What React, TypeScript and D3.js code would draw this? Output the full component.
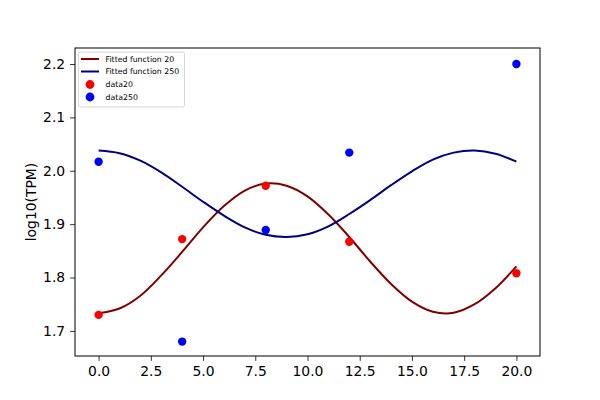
import { useRef, useEffect } from "react";
import * as d3 from "d3";

// measured points
const timePoints = [0, 4, 8, 12, 20];
const data20 = [1.73, 1.872, 1.972, 1.867, 1.808];
const data250 = [2.017, 1.68, 1.889, 2.034, 2.2];

// fitted curves at each integer x
const fitX = [0, 1, 2, 3, 4, 5, 6, 7, 8, 9, 10, 11, 12, 13, 14, 15, 16, 17, 18, 19, 20];
const fit20 = [1.733, 1.742, 1.766, 1.804, 1.848, 1.894, 1.934, 1.963, 1.976, 1.972, 1.952, 1.918, 1.876, 1.83, 1.788, 1.755, 1.736, 1.734, 1.75, 1.78, 1.821];
const fit250 = [2.038, 2.033, 2.019, 1.997, 1.97, 1.942, 1.916, 1.894, 1.88, 1.876, 1.881, 1.896, 1.919, 1.945, 1.973, 1.999, 2.021, 2.034, 2.038, 2.032, 2.017];

const xTicks = [0, 2.5, 5, 7.5, 10, 12.5, 15, 17.5, 20];
const yTicks = [1.7, 1.8, 1.9, 2.0, 2.1, 2.2];

const legendItems = [
  { label: "Fitted function 20", kind: "line", color: "#800000" },
  { label: "Fitted function 250", kind: "line", color: "#000080" },
  { label: "data20", kind: "dot", color: "#ff0000" },
  { label: "data250", kind: "dot", color: "#0000ff" },
];

export default function App() {
  const ref = useRef<SVGSVGElement | null>(null);

  useEffect(() => {
    const svg = d3.select(ref.current);
    svg.selectAll("*").remove();

    const left = 75, right = 540, top = 48, bottom = 356;
    const x = d3.scaleLinear().domain([-1.13, 21.13]).range([left, right]);
    const y = d3.scaleLinear().domain([1.653, 2.23]).range([bottom, top]);
    const font = "DejaVu Sans, sans-serif";

    const line = d3
      .line<number>()
      .x((_, i) => x(fitX[i]))
      .y((d) => y(d))
      .curve(d3.curveCatmullRom);

    const plot = svg.append("g");
    plot.append("path").attr("d", line(fit20)).attr("fill", "none").attr("stroke", "#800000").attr("stroke-width", 2);
    plot.append("path").attr("d", line(fit250)).attr("fill", "none").attr("stroke", "#000080").attr("stroke-width", 2);

    plot
      .selectAll("circle.d20")
      .data(data20)
      .enter()
      .append("circle")
      .attr("cx", (_, i) => x(timePoints[i]))
      .attr("cy", (d) => y(d))
      .attr("r", 4.2)
      .attr("fill", "#ff0000");
    plot
      .selectAll("circle.d250")
      .data(data250)
      .enter()
      .append("circle")
      .attr("cx", (_, i) => x(timePoints[i]))
      .attr("cy", (d) => y(d))
      .attr("r", 4.2)
      .attr("fill", "#0000ff");

    const xAxis = svg
      .append("g")
      .attr("transform", `translate(0,${bottom})`)
      .call(d3.axisBottom(x).tickValues(xTicks).tickFormat(d3.format(".1f")).tickSize(4.9).tickPadding(4.9));
    const yAxis = svg
      .append("g")
      .attr("transform", `translate(${left},0)`)
      .call(d3.axisLeft(y).tickValues(yTicks).tickFormat(d3.format(".1f")).tickSize(4.9).tickPadding(4.9));
    [xAxis, yAxis].forEach((a) => {
      a.select(".domain").remove();
      a.selectAll("line").attr("stroke", "#000").attr("stroke-width", 0.8);
      a.selectAll("text").attr("font-family", font).attr("font-size", 13.9).attr("fill", "#000");
    });

    svg
      .append("rect")
      .attr("x", left)
      .attr("y", top)
      .attr("width", right - left)
      .attr("height", bottom - top)
      .attr("fill", "none")
      .attr("stroke", "#000")
      .attr("stroke-width", 1);

    svg
      .append("text")
      .attr("transform", `translate(36,${(top + bottom) / 2}) rotate(-90)`)
      .attr("text-anchor", "middle")
      .attr("font-family", font)
      .attr("font-size", 13.9)
      .text("log10(TPM)");

    // legend
    const lg = svg.append("g");
    lg.append("rect")
      .attr("x", 78.5)
      .attr("y", 52)
      .attr("width", 106)
      .attr("height", 55)
      .attr("rx", 2)
      .attr("fill", "#fff")
      .attr("fill-opacity", 0.8)
      .attr("stroke", "#cccccc")
      .attr("stroke-width", 0.8);
    const rowY = [59, 71.5, 84.5, 97];
    legendItems.forEach((item, i) => {
      if (item.kind === "line") {
        lg.append("line")
          .attr("x1", 81)
          .attr("x2", 99)
          .attr("y1", rowY[i])
          .attr("y2", rowY[i])
          .attr("stroke", item.color)
          .attr("stroke-width", 2);
      } else {
        lg.append("circle").attr("cx", 90).attr("cy", rowY[i]).attr("r", 4.4).attr("fill", item.color);
      }
      lg.append("text")
        .attr("x", 105.5)
        .attr("y", rowY[i])
        .attr("dy", "0.35em")
        .attr("font-family", font)
        .attr("font-size", 7.8)
        .text(item.label);
    });
  }, []);

  return <svg ref={ref} width={600} height={400} style={{ position: "absolute", left: 0, top: 0 }}></svg>;
}
